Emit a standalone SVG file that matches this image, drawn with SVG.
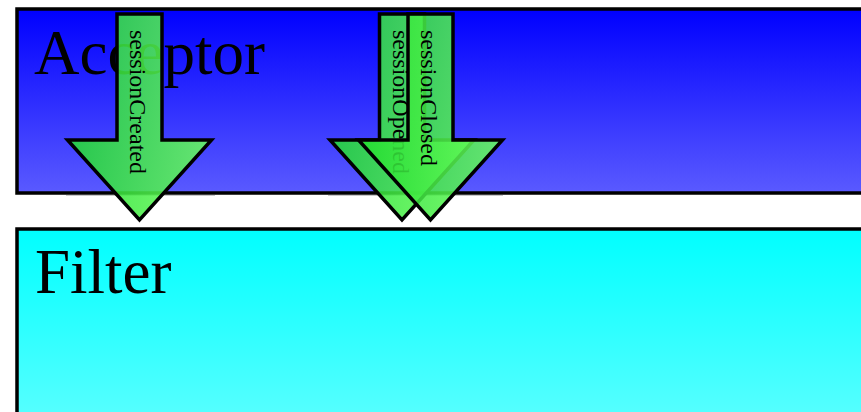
<svg xmlns="http://www.w3.org/2000/svg" width="861" height="412" viewBox="0 0 861 412">
  <defs>
    <linearGradient id="gAcc" x1="0" y1="0" x2="0" y2="1">
      <stop offset="0" stop-color="#0000ff"/>
      <stop offset="1" stop-color="#5a5aff"/>
    </linearGradient>
    <linearGradient id="gFil" x1="0" y1="0" x2="0" y2="1">
      <stop offset="0" stop-color="#00ffff"/>
      <stop offset="1" stop-color="#5cffff"/>
    </linearGradient>
    <linearGradient id="gArr" x1="0" y1="0" x2="1" y2="0">
      <stop offset="0" stop-color="#22dc30"/>
      <stop offset="1" stop-color="#6cff5c"/>
    </linearGradient>
    <polygon id="arrowShape" points="-22.5,14 22.5,14 22.5,140 72,140 0,220 -72,140 -22.5,140"/>
  </defs>
  <style>
    .box { stroke: #000; stroke-width: 3.5; }
    .title { font-family: "Liberation Serif", "Times New Roman", serif; font-size: 63px; fill: #000; }
    .arrow { fill: url(#gArr); fill-opacity: 0.86; stroke: #000; stroke-width: 3.5; stroke-linejoin: miter; }
    .lbl { font-family: "Liberation Serif", "Times New Roman", serif; font-size: 24px; fill: #000; }
    .seam { stroke: #c8c8c8; stroke-width: 1; }
  </style>
  <rect width="861" height="412" fill="#ffffff"/>

  <g id="acceptor">
    <rect class="box" x="17" y="9" width="900" height="184" fill="url(#gAcc)"/>
    <text class="title" x="34" y="74">Acceptor</text>
  </g>

  <g id="filter">
    <rect class="box" x="17" y="229" width="900" height="200" fill="url(#gFil)"/>
    <text class="title" x="35" y="293">Filter</text>
  </g>

  <g id="connectors">
    <line class="seam" x1="66" y1="195.5" x2="215" y2="195.5"/>
    <line class="seam" x1="328" y1="195.5" x2="503" y2="195.5"/>
    <g id="sessionCreated">
      <use href="#arrowShape" class="arrow" transform="translate(139.5,0)"/>
      <text class="lbl" transform="translate(129.5,30) rotate(90)">sessionCreated</text>
    </g>
    <g id="sessionOpened">
      <use href="#arrowShape" class="arrow" transform="translate(402,0)"/>
      <text class="lbl" transform="translate(393,30) rotate(90)">sessionOpened</text>
    </g>
    <g id="sessionClosed">
      <use href="#arrowShape" class="arrow" transform="translate(430.5,0)"/>
      <text class="lbl" transform="translate(421,30) rotate(90)">sessionClosed</text>
    </g>
  </g>
</svg>
